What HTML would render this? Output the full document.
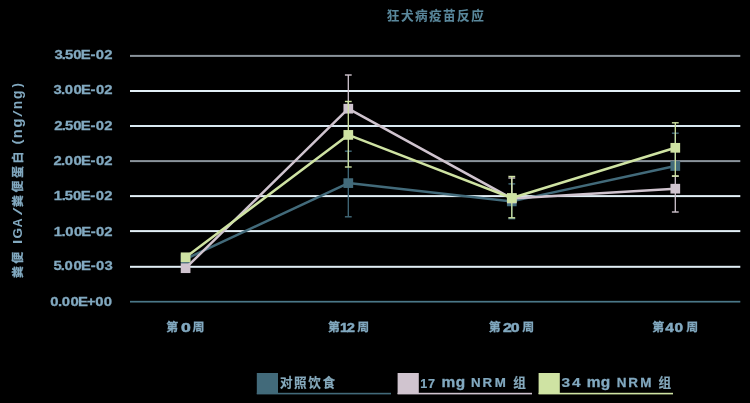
<!DOCTYPE html>
<html lang="zh"><head><meta charset="utf-8"><title>狂犬病疫苗反应</title>
<style>
html,body{margin:0;padding:0;background:#000;}
body{width:750px;height:403px;overflow:hidden;font-family:"Liberation Sans",sans-serif;}
svg{display:block;will-change:transform;}
svg text{font-family:"Liberation Sans","Noto Sans CJK SC",sans-serif;font-weight:bold;white-space:pre;}
</style></head><body>
<svg width="750" height="403" viewBox="0 0 750 403">
<rect width="750" height="403" fill="#000"/>
<rect x="130" y="54.90" width="610.3" height="2" fill="#8a939b"/>
<rect x="130" y="90.00" width="610.3" height="2" fill="#e2eff6"/>
<rect x="130" y="125.00" width="610.3" height="2" fill="#d9e8f1"/>
<rect x="130" y="160.10" width="610.3" height="2" fill="#8a939b"/>
<rect x="130" y="195.10" width="610.3" height="2" fill="#e2eff6"/>
<rect x="130" y="230.10" width="610.3" height="2" fill="#e2eff6"/>
<rect x="130" y="265.80" width="610.3" height="2" fill="#e2eff6"/>
<rect x="130" y="300.85" width="610.3" height="1.7" fill="#4a7788"/>
<g id="s-teal">
<line x1="348.3" y1="151.2" x2="348.3" y2="216.8" stroke="#426a7a" stroke-width="1.3"/>
<line x1="344.90000000000003" y1="151.2" x2="351.7" y2="151.2" stroke="#426a7a" stroke-width="1.4"/>
<line x1="344.90000000000003" y1="216.8" x2="351.7" y2="216.8" stroke="#426a7a" stroke-width="1.4"/>
<line x1="511.8" y1="183.9" x2="511.8" y2="218.7" stroke="#426a7a" stroke-width="1.3"/>
<line x1="508.40000000000003" y1="183.9" x2="515.2" y2="183.9" stroke="#426a7a" stroke-width="1.4"/>
<line x1="508.40000000000003" y1="218.7" x2="515.2" y2="218.7" stroke="#426a7a" stroke-width="1.4"/>
<line x1="675.3" y1="133.2" x2="675.3" y2="166.0" stroke="#426a7a" stroke-width="1.3"/>
<line x1="671.9" y1="133.2" x2="678.6999999999999" y2="133.2" stroke="#426a7a" stroke-width="1.4"/>
<polyline points="185.6,259.0 348.3,183.1 511.8,201.4 675.3,166.0" fill="none" stroke="#426a7a" stroke-width="2.5" stroke-linejoin="round"/>
<rect x="180.75" y="254.15" width="9.7" height="9.7" fill="#426a7a"/>
<rect x="343.45" y="178.25" width="9.7" height="9.7" fill="#426a7a"/>
<rect x="506.95" y="196.55" width="9.7" height="9.7" fill="#426a7a"/>
<rect x="670.45" y="161.15" width="9.7" height="9.7" fill="#426a7a"/>
</g>
<g id="s-pink">
<line x1="348.3" y1="75.0" x2="348.3" y2="108.7" stroke="#d0c4cf" stroke-width="1.3"/>
<line x1="344.90000000000003" y1="75.0" x2="351.7" y2="75.0" stroke="#d0c4cf" stroke-width="1.4"/>
<line x1="511.8" y1="178.0" x2="511.8" y2="198.5" stroke="#d0c4cf" stroke-width="1.3"/>
<line x1="508.40000000000003" y1="178.0" x2="515.2" y2="178.0" stroke="#d0c4cf" stroke-width="1.4"/>
<line x1="675.3" y1="176.2" x2="675.3" y2="212.0" stroke="#d0c4cf" stroke-width="1.3"/>
<line x1="671.9" y1="176.2" x2="678.6999999999999" y2="176.2" stroke="#d0c4cf" stroke-width="1.4"/>
<line x1="671.9" y1="212.0" x2="678.6999999999999" y2="212.0" stroke="#d0c4cf" stroke-width="1.4"/>
<polyline points="185.6,268.2 348.3,108.7 511.8,198.5 675.3,188.7" fill="none" stroke="#d0c4cf" stroke-width="2.5" stroke-linejoin="round"/>
<rect x="180.75" y="263.35" width="9.7" height="9.7" fill="#d0c4cf"/>
<rect x="343.45" y="103.85" width="9.7" height="9.7" fill="#d0c4cf"/>
<rect x="506.95" y="193.65" width="9.7" height="9.7" fill="#d0c4cf"/>
<rect x="670.45" y="183.85" width="9.7" height="9.7" fill="#d0c4cf"/>
</g>
<g id="s-green">
<line x1="348.3" y1="101.5" x2="348.3" y2="167.0" stroke="#cfe3a3" stroke-width="1.3"/>
<line x1="344.90000000000003" y1="101.5" x2="351.7" y2="101.5" stroke="#cfe3a3" stroke-width="1.4"/>
<line x1="344.90000000000003" y1="167.0" x2="351.7" y2="167.0" stroke="#cfe3a3" stroke-width="1.4"/>
<line x1="511.8" y1="176.5" x2="511.8" y2="217.8" stroke="#cfe3a3" stroke-width="1.3"/>
<line x1="508.40000000000003" y1="176.5" x2="515.2" y2="176.5" stroke="#cfe3a3" stroke-width="1.4"/>
<line x1="508.40000000000003" y1="217.8" x2="515.2" y2="217.8" stroke="#cfe3a3" stroke-width="1.4"/>
<line x1="675.3" y1="122.8" x2="675.3" y2="176.0" stroke="#cfe3a3" stroke-width="1.3"/>
<line x1="671.9" y1="122.8" x2="678.6999999999999" y2="122.8" stroke="#cfe3a3" stroke-width="1.4"/>
<line x1="671.9" y1="176.0" x2="678.6999999999999" y2="176.0" stroke="#cfe3a3" stroke-width="1.4"/>
<polyline points="185.6,257.3 348.3,134.9 511.8,198.0 675.3,147.8" fill="none" stroke="#cfe3a3" stroke-width="2.5" stroke-linejoin="round"/>
<rect x="180.75" y="252.45" width="9.7" height="9.7" fill="#cfe3a3"/>
<rect x="343.45" y="130.05" width="9.7" height="9.7" fill="#cfe3a3"/>
<rect x="506.95" y="193.15" width="9.7" height="9.7" fill="#cfe3a3"/>
<rect x="670.45" y="142.95" width="9.7" height="9.7" fill="#cfe3a3"/>
</g>
<text x="386.85 400.90 414.95 429.01 443.06 457.11 471.17" y="20.10" font-size="12.6" fill="#5a889c" stroke="#5a889c" stroke-width="0.1">狂犬病疫苗反应</text>
<text transform="translate(0,58.70) scale(1.180,1)" x="46.21 52.43 55.12 62.06 68.51 76.66 81.23 88.34" y="0" font-size="12.6" fill="#82a9c0" stroke="#82a9c0" stroke-width="0.3">3.50E-02</text>
<text transform="translate(0,93.70) scale(1.180,1)" x="45.43 51.63 54.84 62.24 68.65 76.76 81.30 88.36" y="0" font-size="12.6" fill="#82a9c0" stroke="#82a9c0" stroke-width="0.3">3.00E-02</text>
<text transform="translate(0,129.50) scale(1.180,1)" x="46.07 52.43 55.12 62.06 68.51 76.66 81.24 88.34" y="0" font-size="12.6" fill="#82a9c0" stroke="#82a9c0" stroke-width="0.3">2.50E-02</text>
<text transform="translate(0,164.80) scale(1.180,1)" x="45.37 51.70 54.91 62.29 68.68 76.79 81.32 88.37" y="0" font-size="12.6" fill="#82a9c0" stroke="#82a9c0" stroke-width="0.3">2.00E-02</text>
<text transform="translate(0,200.00) scale(1.180,1)" x="45.61 52.28 54.98 61.94 68.42 76.60 81.19 88.33" y="0" font-size="12.6" fill="#82a9c0" stroke="#82a9c0" stroke-width="0.3">1.50E-02</text>
<text transform="translate(0,235.60) scale(1.180,1)" x="45.57 52.16 55.31 62.62 68.93 76.98 81.44 88.41" y="0" font-size="12.6" fill="#82a9c0" stroke="#82a9c0" stroke-width="0.3">1.00E-02</text>
<text transform="translate(0,270.20) scale(1.180,1)" x="45.26 51.51 54.76 62.20 68.66 76.82 81.40 88.47" y="0" font-size="12.6" fill="#82a9c0" stroke="#82a9c0" stroke-width="0.3">5.00E-03</text>
<text transform="translate(0,305.70) scale(1.180,1)" x="42.56 49.24 52.43 59.78 66.14 73.59 80.65 88.00" y="0" font-size="12.6" fill="#82a9c0" stroke="#82a9c0" stroke-width="0.3">0.00E+00</text>
<text x="166.26" y="331.20" font-size="11.9" fill="#82a9c0" stroke="#82a9c0" stroke-width="0.3">第</text>
<text transform="translate(0,331.70) scale(1.328,1)" x="136.22" y="0" font-size="13.3" fill="#82a9c0" stroke="#82a9c0" stroke-width="0.5">0</text>
<text x="192.60" y="331.20" font-size="11.9" fill="#82a9c0" stroke="#82a9c0" stroke-width="0.3">周</text>
<text x="327.96" y="331.20" font-size="11.9" fill="#82a9c0" stroke="#82a9c0" stroke-width="0.3">第</text>
<text transform="translate(0,331.70) scale(1.100,1)" x="309.20 315.16" y="0" font-size="13.3" fill="#82a9c0" stroke="#82a9c0" stroke-width="0.5">12</text>
<text x="357.35" y="331.20" font-size="11.9" fill="#82a9c0" stroke="#82a9c0" stroke-width="0.3">周</text>
<text x="488.81" y="331.20" font-size="11.9" fill="#82a9c0" stroke="#82a9c0" stroke-width="0.3">第</text>
<text transform="translate(0,331.70) scale(1.194,1)" x="421.24 427.82" y="0" font-size="13.3" fill="#82a9c0" stroke="#82a9c0" stroke-width="0.5">20</text>
<text x="522.15" y="331.20" font-size="11.9" fill="#82a9c0" stroke="#82a9c0" stroke-width="0.3">周</text>
<text x="652.16" y="331.20" font-size="11.9" fill="#82a9c0" stroke="#82a9c0" stroke-width="0.3">第</text>
<text transform="translate(0,331.70) scale(1.152,1)" x="577.55 585.57" y="0" font-size="13.3" fill="#82a9c0" stroke="#82a9c0" stroke-width="0.5">40</text>
<text x="686.25" y="331.20" font-size="11.9" fill="#82a9c0" stroke="#82a9c0" stroke-width="0.3">周</text>
<rect x="256.8" y="373" width="21.2" height="21" fill="#426a7a"/>
<rect x="256.8" y="392.8" width="134.2" height="1.6" fill="#426a7a"/>
<text x="279.90 294.06 308.23 322.40" y="387.30" font-size="12.6" fill="#86aabd" stroke="#86aabd" stroke-width="0.19">对照饮食</text>
<rect x="397.6" y="373" width="21.2" height="21" fill="#d0c4cf"/>
<rect x="397.6" y="392.8" width="134.39999999999998" height="1.6" fill="#d0c4cf"/>
<text transform="translate(0,387.90) scale(0.980,1)" x="428.77 436.75" y="0" font-size="12.8" fill="#82a9c0" stroke="#82a9c0" stroke-width="0.25">17</text>
<text transform="translate(0,387.40) scale(1.102,1)" x="400.67 413.49" y="0" font-size="14.0" fill="#82a9c0" stroke="#82a9c0" stroke-width="0.3">mg</text>
<text transform="translate(0,386.80) scale(1.057,1)" x="445.62 456.48 468.00" y="0" font-size="12.6" fill="#82a9c0" stroke="#82a9c0" stroke-width="0.25">NRM</text>
<text x="513.20" y="387.30" font-size="12.6" fill="#86aabd" stroke="#86aabd" stroke-width="0.19">组</text>
<rect x="538.6" y="373" width="21.2" height="21" fill="#cfe3a3"/>
<rect x="538.6" y="392.8" width="134.39999999999998" height="1.6" fill="#cfe3a3"/>
<text transform="translate(0,386.90) scale(1.222,1)" x="459.49 468.15" y="0" font-size="12.6" fill="#82a9c0" stroke="#82a9c0" stroke-width="0.25">34</text>
<text transform="translate(0,387.40) scale(1.107,1)" x="530.02 542.65" y="0" font-size="14.0" fill="#82a9c0" stroke="#82a9c0" stroke-width="0.3">mg</text>
<text transform="translate(0,386.80) scale(1.070,1)" x="576.30 587.18 598.37" y="0" font-size="12.6" fill="#82a9c0" stroke="#82a9c0" stroke-width="0.25">NRM</text>
<text x="658.50" y="387.30" font-size="12.6" fill="#86aabd" stroke="#86aabd" stroke-width="0.19">组</text>
<g transform="translate(0,277.5) rotate(-90)">
<text x="-0.39 13.87" y="22.20" font-size="11.9" fill="#82a9c0" stroke="#82a9c0" stroke-width="0.3">粪便</text>
<text transform="translate(33.58,21.80) scale(1.140,1)" font-size="13.4" fill="#82a9c0" style="letter-spacing:0.00px">I</text>
<text transform="translate(39.05,21.80) scale(1.006,1)" font-size="13.4" fill="#82a9c0" style="letter-spacing:0.00px">G</text>
<text transform="translate(50.29,21.80) scale(0.923,1)" font-size="13.4" fill="#82a9c0" style="letter-spacing:0.00px">A</text>
<text transform="translate(0,21.80) scale(2.109,1)" x="29.55" y="0" font-size="13.4" fill="#82a9c0" style="font-weight:normal">/</text>
<text x="70.61 85.08 99.55 114.03" y="22.20" font-size="11.9" fill="#82a9c0" stroke="#82a9c0" stroke-width="0.3">粪便蛋白</text>
<text transform="translate(0,21.00) scale(1.191,1)" x="111.60" y="0" font-size="12.5" fill="#82a9c0">(</text>
<text transform="translate(0,21.80) scale(0.974,1)" x="143.01 154.01" y="0" font-size="15.0" fill="#82a9c0">ng</text>
<text transform="translate(0,21.80) scale(1.705,1)" x="94.32" y="0" font-size="13.4" fill="#82a9c0" style="font-weight:normal">/</text>
<text transform="translate(0,21.80) scale(0.926,1)" x="181.69 192.87" y="0" font-size="15.0" fill="#82a9c0">ng</text>
<text transform="translate(0,21.00) scale(1.049,1)" x="181.15" y="0" font-size="12.5" fill="#82a9c0">)</text>
</g>
</svg>
</body></html>
